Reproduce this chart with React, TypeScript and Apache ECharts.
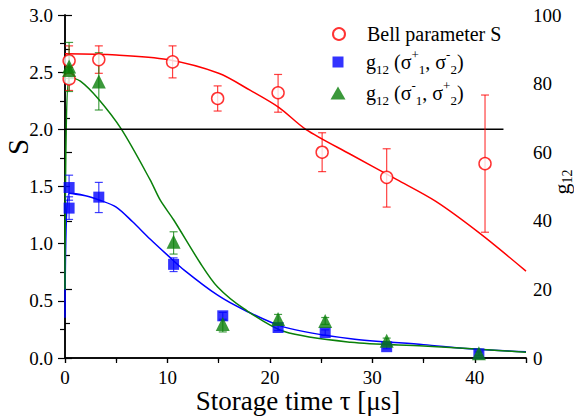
import React, { useEffect, useRef } from "react";
import * as echarts from "echarts";

// ---- Data ----
// Bell parameter S (left axis)
const bellTau = [0.4, 0.4, 3.3, 10.5, 14.9, 20.8, 25.1, 31.4, 41.0];
const bellS = [2.6, 2.44, 2.61, 2.59, 2.27, 2.32, 1.8, 1.58, 1.7];
const bellLow = [2.47, 2.34, 2.49, 2.45, 2.16, 2.15, 1.63, 1.32, 1.1];
const bellHigh = [2.73, 2.54, 2.73, 2.73, 2.38, 2.48, 1.97, 1.83, 2.3];

// g12 (sigma+1, sigma-2) (right axis)
const bluTau = [0.4, 0.4, 3.3, 10.6, 15.4, 20.8, 25.4, 31.4, 40.4];
const bluG = [49.7, 43.7, 46.9, 27.3, 12.3, 8.9, 7.4, 3.3, 1.2];
const bluLow = [46.0, 40.4, 42.4, 25.2, 11.3, 8.0, 6.6, 2.7, 0.7];
const bluHigh = [53.3, 47.0, 51.2, 29.2, 13.3, 9.8, 8.2, 3.9, 1.7];

// g12 (sigma-1, sigma+2) (right axis)
const grnTau = [0.4, 0.4, 3.3, 10.6, 15.4, 20.8, 25.4, 31.4, 40.4];
const grnG = [85.0, 84.0, 80.6, 33.9, 9.9, 11.4, 10.8, 5.0, 1.4];
const grnLow = [81.5, 77.7, 72.3, 30.3, 7.6, 10.0, 9.8, 4.2, 0.8];
const grnHigh = [92.0, 88.0, 89.0, 36.8, 11.0, 12.7, 11.8, 5.8, 2.0];

// Fit curves
const redFitTau = [0, 5, 10, 15, 18.1, 20.9, 23.5, 27.9, 32.4, 36.2, 40.5, 45];
const redFitS = [2.66, 2.65, 2.61, 2.49, 2.34, 2.19, 2.0, 1.78, 1.56, 1.37, 1.09, 0.76];

const bluFitTau = [0, 0.4, 2, 3.4, 5, 6.6, 8.3, 10, 11.6, 14.9, 17.5, 21.4, 27.9, 35, 40, 45];
const bluFitG = [11.7, 48, 47.3, 46, 44, 39.7, 34.7, 30, 25.7, 18.3, 14, 9, 5.6, 3.9, 2.6, 1.8];

const grnFitTau = [0, 0.4, 1.5, 3.2, 5.5, 8.3, 9.3, 10.6, 13.2, 14.9, 17.5, 21.4, 27.9, 35, 45];
const grnFitG = [20, 82, 80.7, 75.7, 66.7, 52, 46, 40.3, 27.7, 20.7, 14.3, 7.7, 4.6, 3.5, 1.7];

// Classical bound line
const thresholdS = 2.0;
const thresholdTau = [0, 42.8];

const xTicks = { min: 0, max: 45, interval: 10 };
const sTicks = { min: 0, max: 3, interval: 0.5 };
const gTicks = { min: 0, max: 100, interval: 20 };

const RED = "#ff0000";
const BLUE = "#0000ff";
const GREEN = "#0a800a";
const FONT = "'Liberation Serif', 'Times New Roman', Times, serif";

const zip2 = (a: number[], b: number[]) => a.map((v, i) => [v, b[i]]);
const zip3 = (a: number[], b: number[], c: number[]) => a.map((v, i) => [v, b[i], c[i]]);

const errRender = (color: string) => (params: any, api: any) => {
  const x = api.value(0);
  const lo = api.coord([x, api.value(1)]);
  const hi = api.coord([x, api.value(2)]);
  const w = 4;
  const st = { stroke: color, lineWidth: 1.2, opacity: 0.75 };
  return {
    type: "group",
    children: [
      { type: "line", shape: { x1: lo[0], y1: lo[1], x2: hi[0], y2: hi[1] }, style: st },
      { type: "line", shape: { x1: lo[0] - w, y1: lo[1], x2: lo[0] + w, y2: lo[1] }, style: st },
      { type: "line", shape: { x1: hi[0] - w, y1: hi[1], x2: hi[0] + w, y2: hi[1] }, style: st },
    ],
  };
};

const richBase = {
  t: { fontSize: 20, fontFamily: FONT, color: "#000", lineHeight: 28, verticalAlign: "middle" },
  sub: { fontSize: 13, fontFamily: FONT, color: "#000", lineHeight: 13, verticalAlign: "bottom" },
  sup: { fontSize: 13, fontFamily: FONT, color: "#000", lineHeight: 13, verticalAlign: "top" },
};

const legendLabels: Record<string, string> = {
  bell: "{t|Bell parameter S}",
  gpm: "{t|g}{sub|12}{t| (σ}{sup|+}{sub|1}{t|, σ}{sup|-}{sub|2}{t|)}",
  gmp: "{t|g}{sub|12}{t| (σ}{sup|-}{sub|1}{t|, σ}{sup|+}{sub|2}{t|)}",
};

const mkLegend = (name: string, centerY: number, w: number, h: number) => ({
  data: [name],
  left: 333 - w / 2,
  top: centerY - 14,
  orient: "vertical",
  itemWidth: w,
  itemHeight: h,
  formatter: (n: string) => legendLabels[n],
  textStyle: { rich: richBase, padding: [0, 0, 0, 28 - w / 2 - 5] },
  selectedMode: false,
});

const axisLine = { show: true, lineStyle: { color: "#000", width: 1.5 } };
const tickRich = { a: { fontSize: 19, fontFamily: FONT, color: "#000" } };

export default function App() {
  const ref = useRef<HTMLDivElement>(null);
  useEffect(() => {
    if (!ref.current) return;
    const chart = echarts.init(ref.current, undefined, { renderer: "svg" });
    const option: any = {
      animation: false,
      backgroundColor: "#fff",
      textStyle: { fontFamily: FONT },
      grid: { left: 65, right: 48, top: 15, bottom: 62 },
      legend: [mkLegend("bell", 33, 12, 12), mkLegend("gpm", 57, 11, 11), mkLegend("gmp", 88, 15, 13)],
      xAxis: [
        {
          type: "value",
          position: "bottom",
          ...xTicks,
          axisLine,
          axisTick: { show: true, length: 5, lineStyle: { color: "#000", width: 1.2 } },
          minorTick: { show: true, splitNumber: 2, length: 3, lineStyle: { color: "#000", width: 1.2 } },
          axisLabel: { margin: 10, showMaxLabel: false, formatter: (v: number) => `{a|${v}}`, rich: tickRich },
          splitLine: { show: false },
        },
        {
          type: "value",
          position: "top",
          min: 0,
          max: 45,
          interval: 5,
          axisLine,
          axisTick: { show: true, inside: true, length: 5, lineStyle: { color: "#000", width: 1.2 } },
          axisLabel: { show: false },
          splitLine: { show: false },
        },
      ],
      yAxis: [
        {
          type: "value",
          position: "left",
          ...sTicks,
          axisLine,
          axisTick: { show: true, length: 7, lineStyle: { color: "#000", width: 1.2 } },
          minorTick: { show: true, splitNumber: 2, length: 5, lineStyle: { color: "#000", width: 1.2 } },
          axisLabel: { margin: 12, formatter: (v: number) => `{a|${v.toFixed(1)}}`, rich: tickRich },
          splitLine: { show: false },
        },
        {
          type: "value",
          position: "right",
          ...gTicks,
          axisLine,
          axisTick: { show: true, length: 7, lineStyle: { color: "#000", width: 1.2 } },
          minorTick: { show: true, splitNumber: 2, length: 5, lineStyle: { color: "#000", width: 1.2 } },
          axisLabel: { margin: 7, formatter: (v: number) => `{a|${v}}`, rich: tickRich },
          splitLine: { show: false },
        },
      ],
      series: [
        {
          type: "line",
          yAxisIndex: 0,
          data: zip2(redFitTau, redFitS),
          smooth: 0.3,
          showSymbol: false,
          lineStyle: { color: RED, width: 1.5 },
          z: 2,
        },
        {
          type: "line",
          yAxisIndex: 1,
          data: zip2(bluFitTau, bluFitG),
          smooth: 0.3,
          showSymbol: false,
          lineStyle: { color: BLUE, width: 1.5 },
          z: 2,
        },
        {
          type: "line",
          yAxisIndex: 1,
          data: zip2(grnFitTau, grnFitG),
          smooth: 0.3,
          showSymbol: false,
          lineStyle: { color: GREEN, width: 1.5 },
          z: 2,
        },
        {
          type: "line",
          yAxisIndex: 0,
          data: thresholdTau.map((t) => [t, thresholdS]),
          showSymbol: false,
          lineStyle: { color: "#000", width: 1.5 },
          z: 2,
        },
        { type: "custom", yAxisIndex: 0, data: zip3(bellTau, bellLow, bellHigh), renderItem: errRender(RED), z: 3 },
        { type: "custom", yAxisIndex: 1, data: zip3(bluTau, bluLow, bluHigh), renderItem: errRender(BLUE), z: 3 },
        { type: "custom", yAxisIndex: 1, data: zip3(grnTau, grnLow, grnHigh), renderItem: errRender(GREEN), z: 3 },
        {
          name: "bell",
          type: "scatter",
          yAxisIndex: 0,
          data: zip2(bellTau, bellS),
          symbol: "circle",
          symbolSize: 12,
          itemStyle: { color: "#fff", borderColor: RED, borderWidth: 1.5 },
          z: 4,
        },
        {
          name: "gpm",
          type: "scatter",
          yAxisIndex: 1,
          data: zip2(bluTau, bluG),
          symbol: "rect",
          symbolSize: 11,
          itemStyle: { color: BLUE },
          z: 4,
        },
        {
          name: "gmp",
          type: "scatter",
          yAxisIndex: 1,
          data: zip2(grnTau, grnG),
          symbol: "triangle",
          symbolSize: 14,
          itemStyle: { color: GREEN },
          z: 5,
        },
      ],
      graphic: [
        {
          type: "text",
          x: 18,
          y: 147,
          rotation: Math.PI / 2,
          style: {
            text: "{a|S}",
            align: "center",
            verticalAlign: "middle",
            rich: { a: { fontSize: 29, fontFamily: FONT, fill: "#000" } },
          },
        },
        {
          type: "text",
          x: 561,
          y: 182,
          rotation: Math.PI / 2,
          style: {
            text: "{g|g}{s|12}",
            align: "center",
            verticalAlign: "middle",
            rich: {
              g: { fontSize: 22, fontFamily: FONT, fill: "#000", lineHeight: 26, verticalAlign: "middle" },
              s: { fontSize: 14, fontFamily: FONT, fill: "#000", lineHeight: 14, verticalAlign: "bottom" },
            },
          },
        },
        {
          type: "text",
          x: 298,
          y: 401,
          style: {
            text: "{a|Storage time τ [μs]}",
            align: "center",
            verticalAlign: "middle",
            rich: { a: { fontSize: 27, fontFamily: FONT, fill: "#000" } },
          },
        },
      ],
    };
    chart.setOption(option);
    return () => chart.dispose();
  }, []);
  return (
    <div
      ref={ref}
      style={{ position: "absolute", left: 0, top: 0, width: 574, height: 420 }}
    />
  );
}
